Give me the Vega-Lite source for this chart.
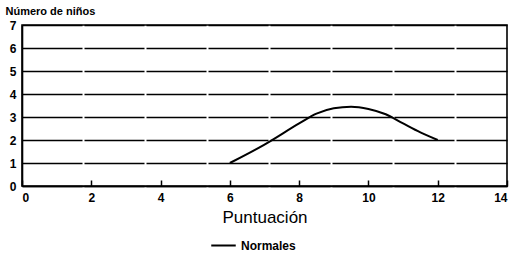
{
  "$schema": "https://vega.github.io/schema/vega-lite/v6.json",
  "autosize": "none",
  "width": 485,
  "height": 161,
  "padding": {"left": 22, "top": 25, "right": 7, "bottom": 67},
  "background": "white",
  "config": {
    "font": "Liberation Sans",
    "view": {"stroke": "black", "strokeWidth": 1.6}
  },
  "data": {
    "values": [
      {"x": 6, "y": 1, "serie": "Normales"},
      {"x": 7, "y": 1.8, "serie": "Normales"},
      {"x": 8, "y": 2.72, "serie": "Normales"},
      {"x": 8.5, "y": 3.15, "serie": "Normales"},
      {"x": 9, "y": 3.38, "serie": "Normales"},
      {"x": 9.5, "y": 3.45, "serie": "Normales"},
      {"x": 10, "y": 3.35, "serie": "Normales"},
      {"x": 10.5, "y": 3.12, "serie": "Normales"},
      {"x": 11, "y": 2.72, "serie": "Normales"},
      {"x": 11.5, "y": 2.33, "serie": "Normales"},
      {"x": 12, "y": 2, "serie": "Normales"}
    ]
  },
  "mark": {"type": "line", "interpolate": "monotone", "strokeWidth": 2},
  "encoding": {
    "x": {
      "field": "x", "type": "quantitative",
      "scale": {"domain": [0, 14], "nice": false},
      "axis": {
        "values": [0, 2, 4, 6, 8, 10, 12, 14],
        "grid": false,
        "domainColor": "black", "domainWidth": 1.6,
        "tickColor": "black", "tickWidth": 1.5, "tickSize": -6,
        "labelPadding": 12,
        "labelFont": "Liberation Sans", "labelFontWeight": "bold", "labelFontSize": 12, "labelColor": "black",
        "title": "Puntuación", "titleFont": "Liberation Sans", "titleFontSize": 17, "titleFontWeight": "normal",
        "titleColor": "black", "titlePadding": 6
      }
    },
    "y": {
      "field": "y", "type": "quantitative",
      "scale": {"domain": [0, 7], "nice": false},
      "axis": {
        "values": [0, 1, 2, 3, 4, 5, 6, 7],
        "grid": true, "gridColor": "black", "gridWidth": 1.3, "gridDash": [60, 2],
        "domainColor": "black", "domainWidth": 1.6,
        "ticks": false, "labelPadding": 6,
        "labelFont": "Liberation Sans", "labelFontWeight": "bold", "labelFontSize": 12, "labelColor": "black",
        "title": "Número de niños", "titleAngle": 0, "titleAlign": "left", "titleBaseline": "bottom",
        "titleX": -17, "titleY": -9, "titleFontSize": 11, "titleFontWeight": "bold", "titleColor": "black",
        "titleFont": "Liberation Sans"
      }
    },
    "color": {
      "field": "serie", "type": "nominal",
      "scale": {"range": ["black"]},
      "legend": {
        "title": null, "orient": "none", "legendX": 188, "legendY": 207, "padding": 0,
        "symbolType": "stroke", "symbolStrokeWidth": 2, "symbolSize": 600, "labelOffset": 4,
        "labelFont": "Liberation Sans", "labelFontWeight": "bold", "labelFontSize": 12, "labelColor": "black"
      }
    }
  }
}
